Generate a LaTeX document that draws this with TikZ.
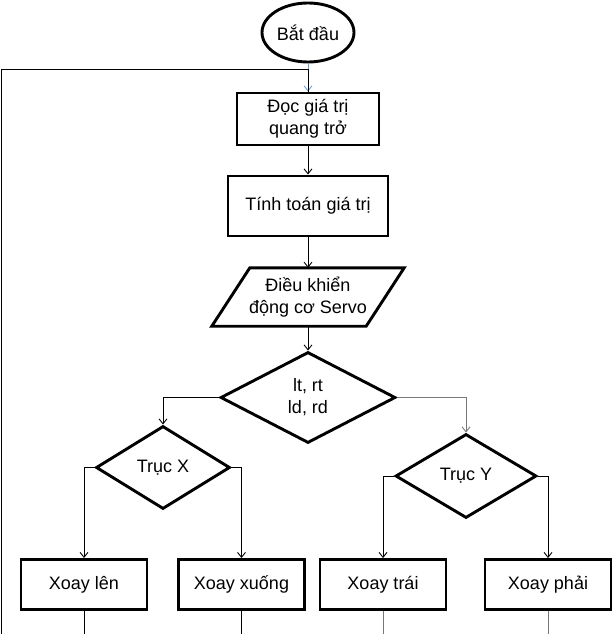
\documentclass[tikz,border=0pt]{standalone}
\usepackage{fontspec}
\setmainfont{Liberation Sans}
\usepackage{tikz}
\usetikzlibrary{shapes.geometric,arrows.meta}

\definecolor{loopblue}{RGB}{110,160,225}
\definecolor{linegray}{RGB}{120,120,120}

\tikzset{
  thickbox/.style={draw, line width=2.9bp, inner sep=0pt, align=center},
  process/.style={thickbox, rectangle, minimum width=142bp, minimum height=52bp},
  branchbox/.style={thickbox, rectangle, minimum width=126bp, minimum height=50bp},
  decision/.style={thickbox, diamond},
  flow/.style={line width=0.9bp, -{Straight Barb[length=5bp,width=8bp]}},
}

\begin{document}
\begin{tikzpicture}[x=1bp, y=1bp, node distance=87bp, font=\fontsize{18bp}{22bp}\selectfont]
\useasboundingbox (0,0) rectangle (612,-634);
\node[thickbox, ellipse, minimum width=92bp, minimum height=59bp] (start) at (308,-32.5) {Bắt đầu};
\node[process, below of=start, yshift=0.5bp] (read) {Đọc giá trị\\quang trở};
\node[process, below of=read, minimum width=160bp, minimum height=60bp] (calc) {Tính toán giá trị};
\node[align=center, inner sep=0pt, minimum width=154bp, minimum height=58bp,
      below of=calc, yshift=-4bp] (servo) {Điều khiển\\động cơ Servo};
\draw[line width=2.9bp, line join=miter] ([xshift=19bp]servo.north west) -- ([xshift=19bp]servo.north east)
  -- ([xshift=-19bp]servo.south east) -- ([xshift=-19bp]servo.south west) -- cycle;
\node[decision, minimum width=175bp, minimum height=91bp, aspect=1.92,
      below of=servo, yshift=-13.5bp] (check) {lt, rt\\ld, rd};
\node[decision, minimum width=134bp, minimum height=83bp, aspect=1.6] (axisX) at (163,-467.5) {Trục X};
\node[decision, minimum width=141bp, minimum height=84bp, aspect=1.68] (axisY) at (466,-476) {Trục Y};
\node[branchbox] (up) at (84,-584.5) {Xoay lên};
\node[branchbox] (down) at (241.5,-584.5) {Xoay xuống};
\node[branchbox] (left) at (383,-584.5) {Xoay trái};
\node[branchbox] (right) at (548,-584.5) {Xoay phải};
\coordinate (back) at (1,-634);
\coordinate (loopin) at (308,-69.5);

\draw[flow, draw=loopblue] (start) -- (read);
\draw[line width=0.9bp] (back) |- (loopin) -- (read.north);
\draw[flow] (read) -- (calc);
\draw[flow] (calc) -- (servo);
\draw[flow] (servo) -- (check);
\draw[flow] (check.west) -| (axisX.north);
\draw[flow, draw=linegray] (check.east) -| (axisY.north);
\draw[flow] (axisX.west) -| (up.north);
\draw[flow] (axisX.east) -| (down.north);
\draw[flow] (axisY.west) -| (left.north);
\draw[flow] (axisY.east) -| (right.north);
\draw[line width=0.9bp] (up) -- (up.south |- back);
\draw[line width=0.9bp] (down) -- (down.south |- back);
\draw[line width=0.9bp, draw=linegray] (left) -- (left.south |- back);
\draw[line width=0.9bp, draw=linegray] (right) -- (right.south |- back);
\end{tikzpicture}
\end{document}
